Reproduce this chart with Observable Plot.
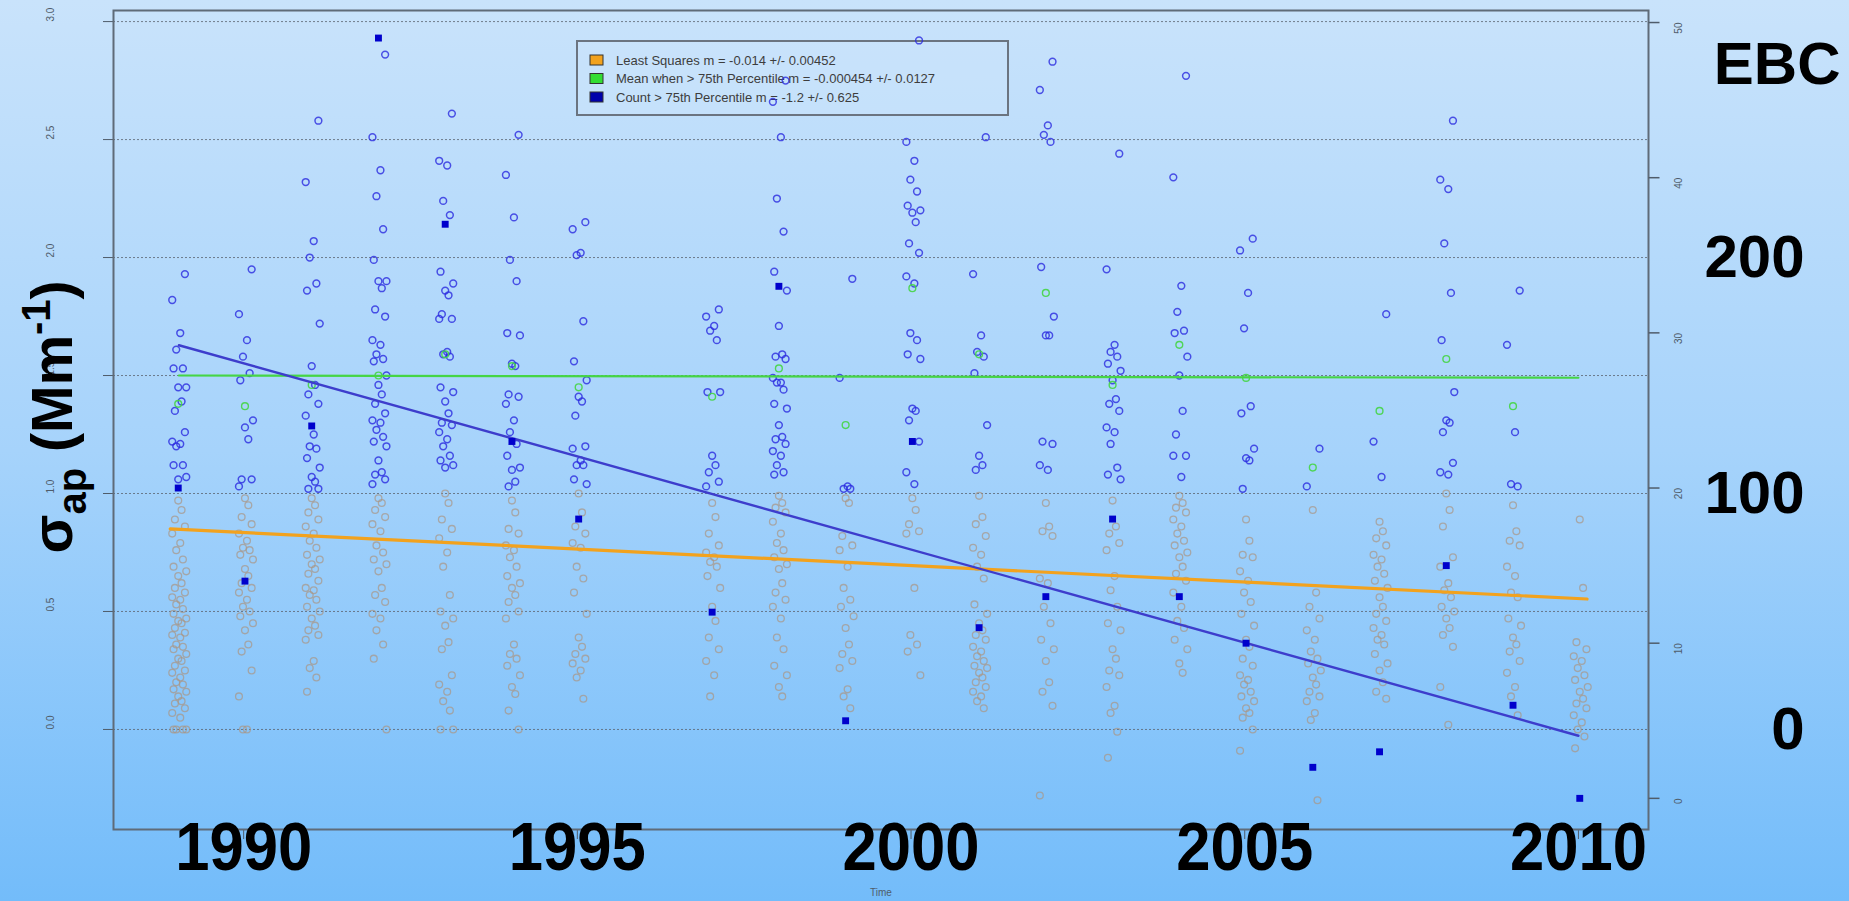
<!DOCTYPE html>
<html>
<head>
<meta charset="utf-8">
<script src="https://cdn.jsdelivr.net/npm/d3@7"></script>
<script src="https://cdn.jsdelivr.net/npm/@observablehq/plot@0.6"></script>
<style>
  html, body { margin: 0; padding: 0; width: 1849px; height: 901px; overflow: hidden; }
  body { background: linear-gradient(to bottom, #c9e3fb 0%, #a6d3fb 50%, #73bcfa 100%); }
  #chart { position: absolute; left: 0; top: 0; }
</style>
</head>
<body>
<div id="chart"></div>
<script>
// ---------------- data ----------------
const years = [1989,1990,1991,1992,1993,1994,1995,1997,1998,1999,2000,2001,2002,2003,2004,2005,2006,2007,2008,2009,2010];

// count of samples above the 75th percentile (right axis)
const countAbove = [20,14,24,49,37,23,18,12,33,5,23,11,13,18,13,10,2,3,15,6,0];

// mean of samples above the 75th percentile (left axis)
const meanAbove = [1.38,1.37,1.46,1.50,1.59,1.54,1.45,1.41,1.53,1.29,1.87,1.59,1.85,1.46,1.63,1.49,1.11,1.35,1.57,1.37,null];

// samples above the 75th percentile (blue circles)
const highVals = [
  [1.93,1.82,1.68,1.61,1.53,1.53,1.45,1.45,1.39,1.35,1.26,1.22,1.21,1.20,1.12,1.12,1.07,1.06],
  [1.95,1.76,1.65,1.58,1.51,1.48,1.31,1.28,1.23,1.06,1.06,1.03],
  [2.58,2.32,2.07,2.00,1.89,1.86,1.72,1.54,1.46,1.42,1.38,1.33,1.25,1.20,1.19,1.15,1.11,1.07,1.05,1.02,1.02],
  [2.86,2.51,2.37,2.26,2.12,1.99,1.90,1.90,1.87,1.78,1.75,1.65,1.63,1.59,1.57,1.56,1.50,1.46,1.42,1.38,1.34,1.31,1.30,1.27,1.24,1.22,1.20,1.14,1.09,1.08,1.06,1.04],
  [2.61,2.41,2.39,2.24,2.18,1.94,1.89,1.86,1.84,1.76,1.74,1.74,1.60,1.59,1.58,1.45,1.43,1.39,1.34,1.30,1.29,1.26,1.23,1.20,1.16,1.14,1.12,1.11],
  [2.52,2.35,2.17,1.99,1.90,1.68,1.67,1.55,1.54,1.42,1.41,1.38,1.31,1.26,1.21,1.16,1.11,1.10,1.05,1.03],
  [2.15,2.12,2.02,2.01,1.73,1.56,1.48,1.41,1.39,1.33,1.20,1.19,1.14,1.12,1.12,1.06,1.04],
  [1.78,1.75,1.71,1.69,1.65,1.43,1.43,1.16,1.12,1.09,1.05,1.03],
  [2.75,2.66,2.51,2.25,2.11,1.94,1.86,1.71,1.59,1.58,1.57,1.49,1.47,1.47,1.44,1.38,1.36,1.29,1.24,1.23,1.21,1.18,1.16,1.12,1.09,1.08],
  [1.91,1.49,1.03,1.02,1.02],
  [2.92,2.49,2.41,2.33,2.28,2.22,2.20,2.19,2.15,2.06,2.02,1.92,1.89,1.68,1.65,1.59,1.57,1.36,1.35,1.31,1.22,1.09,1.04],
  [2.51,1.93,1.67,1.60,1.58,1.51,1.29,1.16,1.12,1.10],
  [2.83,2.71,2.56,2.52,2.49,1.96,1.75,1.67,1.67,1.22,1.21,1.12,1.10],
  [2.44,1.95,1.63,1.60,1.58,1.55,1.52,1.48,1.40,1.38,1.35,1.28,1.26,1.21,1.11,1.08,1.06],
  [2.77,2.34,1.88,1.77,1.69,1.68,1.58,1.50,1.35,1.25,1.16,1.16,1.07],
  [2.08,2.03,1.85,1.70,1.37,1.34,1.19,1.15,1.14,1.02],
  [1.19,1.03],
  [1.76,1.22,1.07],
  [2.58,2.33,2.29,2.06,1.85,1.65,1.43,1.31,1.30,1.26,1.13,1.09,1.08],
  [1.86,1.63,1.26,1.04,1.03],
  []
];

// samples below the 75th percentile (grey circles)
const lowVals = [
  [0.97,0.93,0.89,0.86,0.83,0.79,0.76,0.72,0.69,0.67,0.65,0.62,0.60,0.58,0.56,0.55,0.53,0.51,0.49,0.47,0.46,0.45,0.43,0.41,0.40,0.39,0.36,0.35,0.34,0.32,0.30,0.29,0.27,0.25,0.24,0.22,0.20,0.19,0.17,0.16,0.14,0.12,0.11,0.09,0.07,0.05,0.00,0.00,0.00,0.00],
  [0.98,0.95,0.90,0.87,0.83,0.80,0.77,0.76,0.74,0.72,0.68,0.65,0.62,0.60,0.58,0.55,0.52,0.50,0.48,0.45,0.42,0.36,0.33,0.25,0.14,0.00,0.00],
  [0.98,0.95,0.92,0.89,0.86,0.83,0.80,0.77,0.74,0.72,0.70,0.68,0.66,0.63,0.60,0.59,0.57,0.55,0.52,0.50,0.47,0.44,0.42,0.40,0.38,0.29,0.26,0.22,0.16],
  [0.98,0.96,0.93,0.90,0.87,0.84,0.78,0.75,0.72,0.70,0.67,0.60,0.57,0.54,0.49,0.47,0.42,0.36,0.30,0.00],
  [1.00,0.96,0.89,0.85,0.81,0.75,0.69,0.57,0.50,0.47,0.44,0.37,0.34,0.23,0.19,0.16,0.12,0.08,0.00,0.00],
  [0.97,0.92,0.85,0.83,0.78,0.76,0.73,0.69,0.65,0.62,0.60,0.57,0.54,0.50,0.47,0.36,0.32,0.30,0.27,0.23,0.18,0.15,0.08,0.00],
  [1.00,0.92,0.86,0.83,0.79,0.77,0.69,0.64,0.58,0.49,0.39,0.35,0.32,0.30,0.28,0.25,0.22,0.13],
  [0.96,0.90,0.83,0.78,0.75,0.73,0.71,0.69,0.65,0.60,0.52,0.46,0.39,0.34,0.29,0.23,0.14],
  [0.99,0.96,0.94,0.92,0.88,0.83,0.79,0.76,0.73,0.70,0.68,0.62,0.58,0.55,0.52,0.47,0.39,0.34,0.27,0.23,0.18,0.14],
  [0.98,0.96,0.82,0.78,0.76,0.69,0.60,0.55,0.52,0.48,0.43,0.36,0.32,0.29,0.26,0.17,0.14,0.09],
  [0.98,0.93,0.87,0.84,0.83,0.60,0.40,0.36,0.33,0.23],
  [0.99,0.90,0.87,0.82,0.77,0.74,0.69,0.64,0.53,0.49,0.45,0.42,0.40,0.38,0.35,0.33,0.31,0.29,0.27,0.26,0.24,0.22,0.20,0.18,0.16,0.14,0.12,0.09],
  [0.96,0.86,0.84,0.82,0.64,0.62,0.52,0.45,0.38,0.34,0.29,0.20,0.16,0.10,-0.28],
  [0.97,0.86,0.83,0.79,0.76,0.65,0.59,0.52,0.45,0.42,0.34,0.30,0.25,0.23,0.18,0.10,0.07,-0.01,-0.12],
  [0.99,0.96,0.94,0.92,0.89,0.86,0.83,0.80,0.78,0.75,0.73,0.69,0.66,0.63,0.58,0.52,0.46,0.43,0.38,0.34,0.28,0.24],
  [0.89,0.80,0.74,0.73,0.67,0.63,0.58,0.54,0.49,0.44,0.38,0.35,0.30,0.27,0.23,0.21,0.19,0.16,0.14,0.12,0.09,0.07,0.05,0.00,-0.09],
  [0.93,0.58,0.52,0.47,0.42,0.38,0.33,0.30,0.28,0.25,0.22,0.19,0.16,0.14,0.12,0.07,0.04,-0.30],
  [0.88,0.84,0.81,0.78,0.74,0.72,0.69,0.66,0.63,0.60,0.56,0.52,0.49,0.46,0.43,0.40,0.38,0.36,0.32,0.28,0.25,0.20,0.16,0.13],
  [1.00,0.93,0.86,0.73,0.69,0.62,0.59,0.56,0.52,0.50,0.47,0.43,0.40,0.35,0.18,0.02],
  [0.95,0.84,0.80,0.78,0.69,0.65,0.58,0.56,0.47,0.44,0.39,0.36,0.33,0.29,0.24,0.18,0.14,0.06],
  [0.89,0.60,0.37,0.34,0.31,0.29,0.26,0.23,0.21,0.18,0.16,0.13,0.11,0.09,0.06,0.03,0.00,-0.03,-0.08]
];

// fitted trend lines (from the legend slopes)
const fitLsq   = {from: 1988.9,  to: 2010.13, start: 0.85, slope: -0.014};
const fitMean  = {from: 1989.03, to: 2010.0,  start: 1.50, slope: -0.000454};
const fitCount = {from: 1989.03, to: 2010.0,  start: 29.2, slope: -1.2};

// tick labels and text
const xTicks = [1990, 1995, 2000, 2005, 2010];
const yTicks = [0, 0.5, 1, 1.5, 2, 2.5, 3];
const countTicks = [0, 10, 20, 30, 40, 50];
const overlayLabels = ["200", "100", "0"];
const overlayValues = [2, 1, 0];
const legendLabels = [
  "Least Squares m = -0.014 +/- 0.00452",
  "Mean when > 75th Percentile m = -0.000454 +/- 0.0127",
  "Count > 75th Percentile m = -1.2 +/- 0.625"
];

// ---------------- presentation ----------------
const SPREAD = [0, 0.05, -0.05, 0.1, -0.09, 0.03, -0.03, 0.07, -0.07, 0.12]; // within-season spread of sample dates
const SHIFT = 0.02;
const countToY = d3.scaleLinear([0, 50], [-0.292, 2.996]); // right (count) axis mapped on the left scale
const COLORS = {orange: "#f2a21e", green: "#45d545", blue: "#2a2ae0", square: "#0000cc", grey: "rgb(170,150,132)"};
const AXIS = "#4f5c6a";

const lowPts = years.flatMap((yr, k) => lowVals[k].map((v, i) => ({x: yr + SHIFT + SPREAD[i % SPREAD.length], v})));
const highPts = years.flatMap((yr, k) => highVals[k].map((v, i) => ({x: yr + SHIFT + SPREAD[(i + 3) % SPREAD.length], v})));
const meanPts = years.map((yr, k) => ({x: yr + SHIFT, v: meanAbove[k]})).filter(d => d.v != null);
const countPts = years.map((yr, k) => ({x: yr + SHIFT, v: countToY(countAbove[k])}));
const fitPts = (f, map = v => v) => [f.from, f.to].map(x => ({x, v: map(f.start + f.slope * (x - f.from))}));

const hTick = {draw(ctx) { ctx.moveTo(0, 0); ctx.lineTo(11, 0); }};

const plot = Plot.plot({
  width: 1849,
  height: 901,
  marginLeft: 113,
  marginRight: 201,
  marginTop: 10,
  marginBottom: 72,
  style: {background: "transparent", color: AXIS, fontFamily: "'Liberation Sans', Arial, sans-serif", fontSize: "10px"},
  x: {domain: [1988.05, 2011.05], ticks: xTicks, tickSize: 10, tickFormat: () => "", label: null},
  y: {domain: [-0.424, 3.047], ticks: yTicks, tickSize: 10, tickFormat: () => "", label: null},
  marks: [
    Plot.ruleY(yTicks, {stroke: "#5b6470", strokeDasharray: "2,2", strokeWidth: 1, strokeOpacity: 0.8}),
    Plot.frame({stroke: "#5f6b78", strokeWidth: 2}),
    Plot.dot(lowPts, {x: "x", y: "v", r: 3.4, stroke: COLORS.grey, strokeOpacity: 0.7, strokeWidth: 1.3}),
    Plot.dot(highPts, {x: "x", y: "v", r: 3.4, stroke: COLORS.blue, strokeOpacity: 0.8, strokeWidth: 1.5}),
    Plot.dot(meanPts, {x: "x", y: "v", r: 3.4, stroke: COLORS.green, strokeOpacity: 0.9, strokeWidth: 1.4}),
    Plot.line(fitPts(fitLsq), {x: "x", y: "v", stroke: COLORS.orange, strokeWidth: 3.2}),
    Plot.line(fitPts(fitMean), {x: "x", y: "v", stroke: COLORS.green, strokeWidth: 2.2}),
    Plot.line(fitPts(fitCount, countToY), {x: "x", y: "v", stroke: "#3d3dcc", strokeWidth: 2.4}),
    Plot.dot(countPts, {x: "x", y: "v", symbol: "square", r: 3.9, fill: COLORS.square}),
    // left small tick labels
    Plot.text(yTicks, {y: d => d, text: d => d.toFixed(1), frameAnchor: "left", dx: -63, rotate: -90, fill: AXIS, fontSize: 10}),
    // right (count) axis
    Plot.dot(countTicks, {y: d => countToY(d), frameAnchor: "right", symbol: hTick, stroke: AXIS, r: 1}),
    Plot.text(countTicks, {y: d => countToY(d), text: d => String(d), frameAnchor: "right", dx: 30, rotate: -90, fill: AXIS, fontSize: 10}),
    // x axis title
    Plot.text(["Time"], {frameAnchor: "bottom", dy: 66, fill: AXIS, fontSize: 10}),
    // big overlay labels
    Plot.text(xTicks, {x: d => d, text: d => String(d), frameAnchor: "bottom", dy: 40, fontSize: 68, fontWeight: "bold", fill: "black"}),
    Plot.text(overlayValues, {y: d => d, text: (d, i) => overlayLabels[i], frameAnchor: "right", dx: 156, textAnchor: "end", fontSize: 60, fontWeight: "bold", fill: "black"}),
    Plot.text(["EBC"], {frameAnchor: "top-right", dx: 192, dy: 31, textAnchor: "end", fontSize: 60, fontWeight: "bold", fill: "black"})
  ]
});

document.getElementById("chart").appendChild(plot);

const svg = d3.select(plot);

// condense the big year labels
svg.selectAll("text").filter(function() {
  return xTicks.map(String).includes(this.textContent) && this.parentNode.getAttribute("font-size") === "68";
}).attr("textLength", 137).attr("lengthAdjust", "spacingAndGlyphs");

// legend (under the points)
const firstDot = plot.querySelector('g[aria-label="dot"]');
const lg = d3.create("svg:g")
  .attr("font-family", "'Liberation Sans', Arial, sans-serif")
  .attr("text-anchor", "start");
lg.append("rect").attr("x", 577).attr("y", 41).attr("width", 431).attr("height", 74)
  .attr("fill", "rgba(205,228,252,0.35)").attr("stroke", "#6b7480").attr("stroke-width", 2);
const swatch = [COLORS.orange, "#33dd33", "#0000aa"];
legendLabels.forEach((t, i) => {
  const cy = 60 + i * 18.5;
  lg.append("rect").attr("x", 590).attr("y", cy - 5).attr("width", 13).attr("height", 10)
    .attr("fill", swatch[i]).attr("stroke", "#333").attr("stroke-width", 1);
  lg.append("text").attr("x", 616).attr("y", cy).attr("dy", "0.35em")
    .attr("text-anchor", "start")
    .attr("font-size", 13).attr("fill", "#3d3d3d").text(t);
});
plot.insertBefore(lg.node(), firstDot);

// left axis title
const title = svg.append("text")
  .attr("transform", "translate(72,417) rotate(-90)")
  .attr("text-anchor", "middle")
  .attr("font-family", "'Liberation Sans', Arial, sans-serif")
  .attr("font-weight", "bold")
  .attr("font-size", 57)
  .attr("fill", "black");
title.append("tspan").text("σ");
title.append("tspan").attr("font-size", 40).attr("dy", 14).text("ap");
title.append("tspan").attr("dy", -14).text(" (Mm");
title.append("tspan").attr("font-size", 40).attr("dy", -22).text("-1");
title.append("tspan").attr("dy", 22).text(")");
</script>
</body>
</html>
